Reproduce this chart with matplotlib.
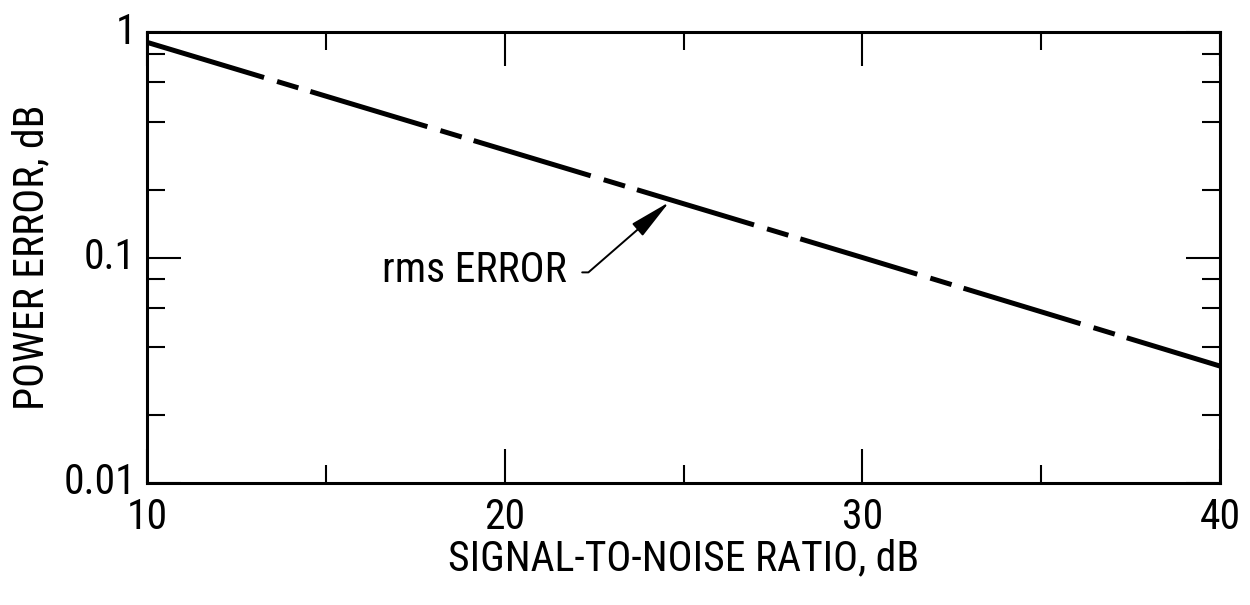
import matplotlib
matplotlib.use("Agg")
import matplotlib.pyplot as plt
from matplotlib import font_manager as fm
from matplotlib.ticker import FixedLocator, NullFormatter

# ---- data ----
snr_db = [10, 20, 30, 40]
power_error_db = [0.9, 0.3, 0.1, 0.033]
x_major = [10, 20, 30, 40]
x_minor = [15, 25, 35]
x_labels = ["10", "20", "30", "40"]
y_major = [0.01, 0.1, 1]
y_minor = [0.02, 0.04, 0.06, 0.08, 0.2, 0.4, 0.6, 0.8]
y_labels = ["0.01", "0.1", "1"]
annot_text = "rms ERROR"
annot_tip = (24.6, 0.176)
annot_text_pos = (21.74, 0.078)

# ---- pick a condensed sans font if one is installed ----
def _is_narrow(f):
    st = f.stretch
    if isinstance(st, str):
        if 'condensed' in st.lower():
            return True
    elif isinstance(st, (int, float)) and st < 500:
        return True
    n = f.name.lower()
    return 'narrow' in n or 'condensed' in n

narrow = [f for f in fm.fontManager.ttflist if _is_narrow(f)
          and 'mono' not in f.name.lower() and 'serif' not in f.name.lower()]
pref = ['Liberation Sans Narrow', 'Roboto Condensed', 'DejaVu Sans',
        'Open Sans', 'Noto Sans', 'Arial Narrow']
chosen = None
for p in pref:
    for f in narrow:
        if f.name == p and f.weight in (400, 'normal', 'regular', 'book', 'Book'):
            chosen = f
            break
    if chosen:
        break
if chosen is None and narrow:
    chosen = narrow[0]

if chosen is not None:
    family = chosen.name
    stretch = chosen.stretch
    FS = 30
else:
    family = 'Roboto'
    stretch = 'normal'
    FS = 25

plt.rcParams['font.family'] = [family, 'DejaVu Sans']
plt.rcParams['font.stretch'] = stretch
plt.rcParams['lines.scale_dashes'] = False

fig = plt.figure(figsize=(12.5, 6.05), dpi=100)
ax = fig.add_axes([147/1250, 1-483/605, (1220-147)/1250, (483-32)/605])

ax.set_yscale('log')
ax.set_xlim(10, 40)
ax.set_ylim(0.01, 1)

ax.plot(snr_db, power_error_db, color='black', lw=3.6,
        linestyle=(0, (88, 9.8, 16, 9)), dash_capstyle='butt')

ax.xaxis.set_major_locator(FixedLocator(x_major))
ax.xaxis.set_minor_locator(FixedLocator(x_minor))
ax.set_xticklabels(x_labels)
ax.yaxis.set_major_locator(FixedLocator(y_major))
ax.yaxis.set_minor_locator(FixedLocator(y_minor))
ax.set_yticklabels(y_labels)
ax.yaxis.set_minor_formatter(NullFormatter())

ax.tick_params(which='both', direction='in', top=True, right=True,
               width=1.5, color='black', labelsize=FS)
ax.tick_params(which='major', length=24.5)
ax.tick_params(which='minor', length=13)
ax.tick_params(axis='x', which='major', pad=10)
ax.tick_params(axis='y', which='major', pad=8)
for lbl in ax.get_yticklabels():
    lbl.set_verticalalignment('center')

for s in ax.spines.values():
    s.set_linewidth(2.2)

ax.set_xlabel("SIGNAL-TO-NOISE RATIO, dB", fontsize=FS, labelpad=0)
ax.set_ylabel("POWER ERROR, dB", fontsize=FS, labelpad=8)

ax.annotate(annot_text, xy=annot_tip, xytext=annot_text_pos, textcoords='data',
            fontsize=FS, ha='right', va='baseline',
            arrowprops=dict(arrowstyle='-|>,head_length=1.3,head_width=0.25',
                            mutation_scale=20, lw=1.4, color='black',
                            connectionstyle='angle,angleA=0,angleB=41,rad=0',
                            relpos=(1, 0.45), shrinkA=9, shrinkB=0))

fig.savefig("out.png", dpi=100, facecolor='white')
